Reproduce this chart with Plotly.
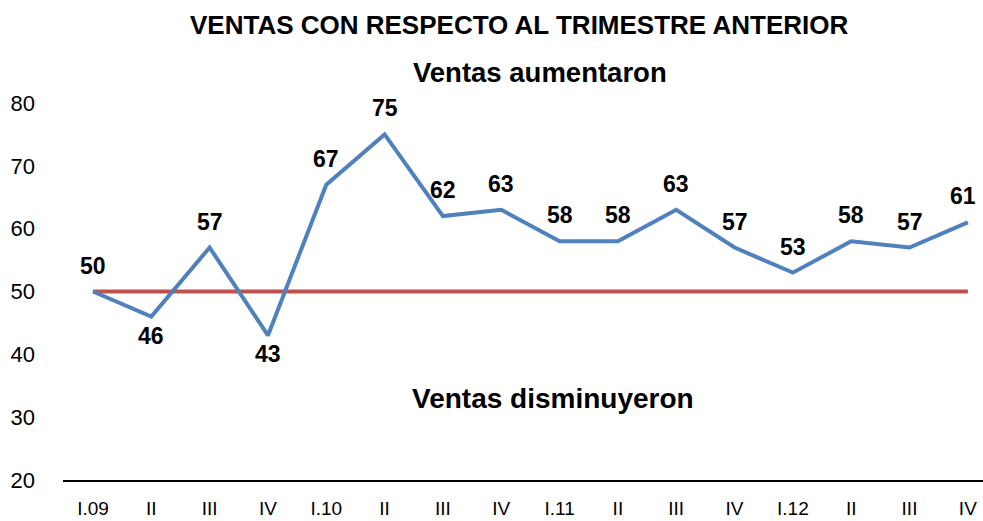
import plotly.graph_objects as go

categories = ["I.09", "II", "III", "IV", "I.10", "II", "III", "IV", "I.11", "II", "III", "IV", "I.12", "II", "III", "IV"]
ventas = [50, 46, 57, 43, 67, 75, 62, 63, 58, 58, 63, 57, 53, 58, 57, 61]
referencia = [50] * len(categories)
label_below = [False, True, False, True] + [False] * 12
y_ticks = [20, 30, 40, 50, 60, 70, 80]

x = list(range(len(categories)))

fig = go.Figure()
fig.add_trace(go.Scatter(x=x, y=referencia, mode="lines",
                         line=dict(color="#C0504D", width=4), hoverinfo="skip"))
fig.add_trace(go.Scatter(x=x, y=ventas, mode="lines",
                         line=dict(color="#4F81BD", width=4)))

last = len(x) - 1
for xi, v, below in zip(x, ventas, label_below):
    fig.add_annotation(x=xi, y=v, text="<b>%d</b>" % v, showarrow=False,
                       yshift=-19 if below else 26,
                       xshift=-5 if xi == last else 0,
                       font=dict(family="Liberation Sans, Arial", size=23, color="#000000"))

fig.update_layout(
    width=983, height=521,
    margin=dict(l=63, r=0, t=103, b=41),
    paper_bgcolor="white", plot_bgcolor="white",
    showlegend=False,
    xaxis=dict(range=[-0.514, 15.26], tickmode="array", tickvals=x, ticktext=categories,
               showgrid=False, zeroline=False, showline=True, linecolor="#000000", linewidth=2,
               ticks="", automargin=False,
               tickfont=dict(family="Liberation Sans, Arial", size=19, color="#000000"),
               ticklabelstandoff=10),
    yaxis=dict(range=[20, 80], tickmode="array", tickvals=y_ticks,
               showgrid=False, zeroline=False, showline=False, ticks="", automargin=False,
               tickfont=dict(family="Liberation Sans, Arial", size=22, color="#000000"),
               ticklabelstandoff=27),
    annotations=list(fig.layout.annotations) + [
        dict(text="<b>VENTAS CON RESPECTO AL TRIMESTRE ANTERIOR</b>", xref="paper", yref="paper",
             x=0.496, y=1.207, xanchor="center", yanchor="middle", showarrow=False,
             font=dict(family="Liberation Sans, Arial", size=26, color="#000000")),
        dict(text="<b>Ventas aumentaron</b>", xref="paper", yref="paper",
             x=0.518, y=1.082, xanchor="center", yanchor="middle", showarrow=False,
             font=dict(family="Liberation Sans, Arial", size=27.5, color="#000000")),
        dict(text="<b>Ventas disminuyeron</b>", xref="paper", yref="paper",
             x=0.533, y=0.215, xanchor="center", yanchor="middle", showarrow=False,
             font=dict(family="Liberation Sans, Arial", size=28, color="#000000")),
    ],
)

fig.write_html("out.html", config={"displayModeBar": False},
               post_script="document.body.style.margin='0';document.body.style.overflow='hidden';")
